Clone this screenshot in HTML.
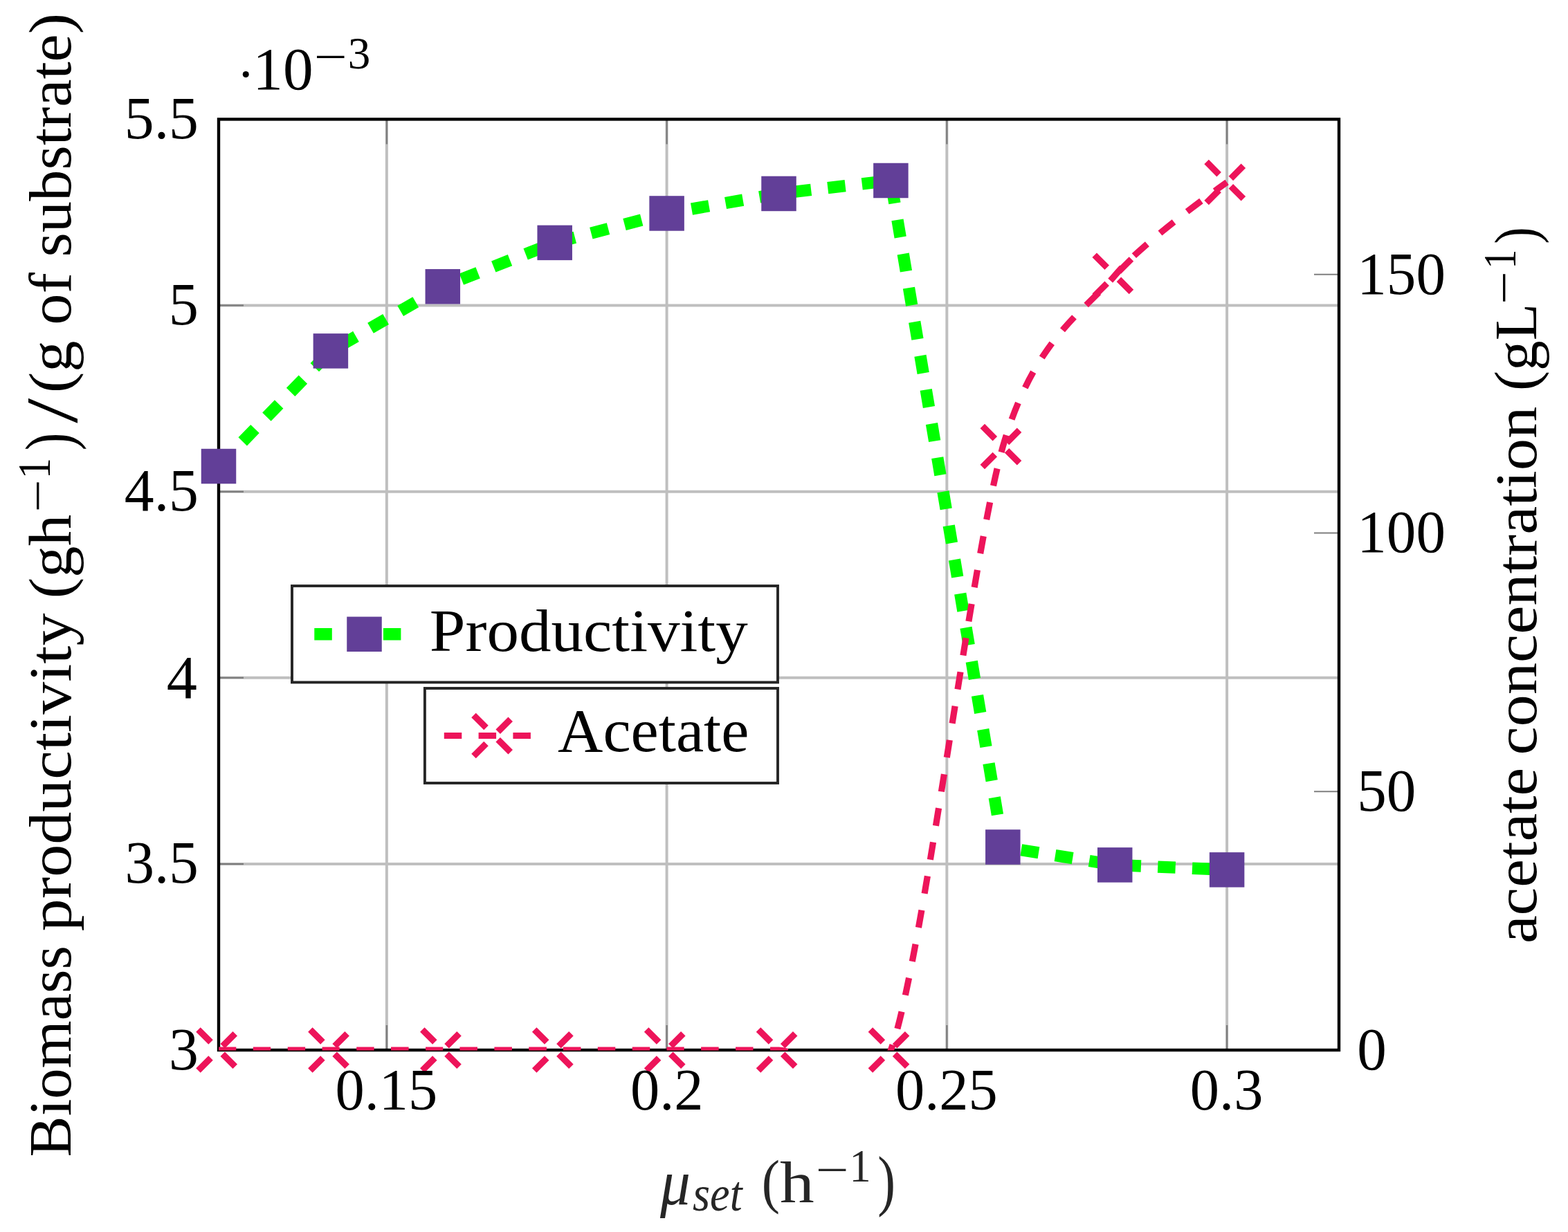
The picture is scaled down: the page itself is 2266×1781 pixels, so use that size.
<!DOCTYPE html><html><head><meta charset="utf-8"><title>Biomass productivity and acetate concentration vs μset</title><style>html,body{margin:0;padding:0;background:#fff;}svg{display:block;}text{font-kerning:normal;}</style></head><body>
<svg width="2266" height="1781" viewBox="0 0 2266 1781">
<rect width="2266" height="1781" fill="#fff"/>
<defs><clipPath id="clip"><rect x="316.00" y="172.40" width="1619.00" height="1346.10"/></clipPath></defs>
<g stroke="#bfbfbf" stroke-width="4.0" fill="none">
<line x1="558.85" y1="172.40" x2="558.85" y2="1518.00"/>
<line x1="963.60" y1="172.40" x2="963.60" y2="1518.00"/>
<line x1="1368.35" y1="172.40" x2="1368.35" y2="1518.00"/>
<line x1="1773.10" y1="172.40" x2="1773.10" y2="1518.00"/>
<line x1="316.00" y1="1248.88" x2="1935.00" y2="1248.88"/>
<line x1="316.00" y1="979.76" x2="1935.00" y2="979.76"/>
<line x1="316.00" y1="710.64" x2="1935.00" y2="710.64"/>
<line x1="316.00" y1="441.52" x2="1935.00" y2="441.52"/>
</g>
<g stroke="#7f7f7f" stroke-width="2.5" fill="none">
<line x1="558.85" y1="172.40" x2="558.85" y2="208.40"/>
<line x1="558.85" y1="1518.00" x2="558.85" y2="1482.00"/>
<line x1="963.60" y1="172.40" x2="963.60" y2="208.40"/>
<line x1="963.60" y1="1518.00" x2="963.60" y2="1482.00"/>
<line x1="1368.35" y1="172.40" x2="1368.35" y2="208.40"/>
<line x1="1368.35" y1="1518.00" x2="1368.35" y2="1482.00"/>
<line x1="1773.10" y1="172.40" x2="1773.10" y2="208.40"/>
<line x1="1773.10" y1="1518.00" x2="1773.10" y2="1482.00"/>
<line x1="316.00" y1="1248.88" x2="352.00" y2="1248.88"/>
<line x1="316.00" y1="979.76" x2="352.00" y2="979.76"/>
<line x1="316.00" y1="710.64" x2="352.00" y2="710.64"/>
<line x1="316.00" y1="441.52" x2="352.00" y2="441.52"/>
</g>
<g stroke="#7f7f7f" stroke-width="2.0" fill="none">
<line x1="1935.00" y1="1144.22" x2="1899.00" y2="1144.22"/>
<line x1="1935.00" y1="770.44" x2="1899.00" y2="770.44"/>
<line x1="1935.00" y1="396.67" x2="1899.00" y2="396.67"/>
</g>
<rect x="316.00" y="172.40" width="1619.00" height="1345.60" fill="none" stroke="#000" stroke-width="4.4"/>
<path clip-path="url(#clip)" d="M316.00,674.04 L477.90,507.40 L639.80,414.29 L801.70,350.88 L963.60,308.47 L1125.50,279.94 L1287.40,260.99 L1449.30,1224.50 L1611.20,1250.39 L1773.10,1257.38" fill="none" stroke="#00ff00" stroke-width="17.4" stroke-dasharray="25.5 24.3"/>
<rect x="290.75" y="648.79" width="50.5" height="50.5" fill="#623f98"/>
<rect x="452.65" y="482.15" width="50.5" height="50.5" fill="#623f98"/>
<rect x="614.55" y="389.04" width="50.5" height="50.5" fill="#623f98"/>
<rect x="776.45" y="325.63" width="50.5" height="50.5" fill="#623f98"/>
<rect x="938.35" y="283.22" width="50.5" height="50.5" fill="#623f98"/>
<rect x="1100.25" y="254.69" width="50.5" height="50.5" fill="#623f98"/>
<rect x="1262.15" y="235.74" width="50.5" height="50.5" fill="#623f98"/>
<rect x="1424.05" y="1199.25" width="50.5" height="50.5" fill="#623f98"/>
<rect x="1585.95" y="1225.14" width="50.5" height="50.5" fill="#623f98"/>
<rect x="1747.85" y="1232.13" width="50.5" height="50.5" fill="#623f98"/>
<rect x="422.0" y="847.0" width="702.00" height="139.40" fill="#fff" stroke="#252525" stroke-width="3.9"/>
<line x1="454.30" y1="916.8" x2="598.70" y2="916.8" stroke="#00ff00" stroke-width="17.4" stroke-dasharray="25.5 24.3"/>
<rect x="501.25" y="891.55" width="50.5" height="50.5" fill="#623f98"/>
<path clip-path="url(#clip)" d="M316.00,1518.00 C316.00,1518.00 432.97,1518.00 477.90,1518.00 C522.83,1518.00 594.87,1518.00 639.80,1518.00 C684.73,1518.00 756.77,1518.00 801.70,1518.00 C846.63,1518.00 918.67,1518.00 963.60,1518.00 C1008.53,1518.00 1080.57,1518.00 1125.50,1518.00 C1170.43,1518.00 1242.47,1639.05 1287.40,1518.00 C1332.33,1396.95 1404.37,800.98 1449.30,645.60 C1494.23,490.23 1566.27,451.16 1611.20,398.16 C1656.13,345.16 1773.10,263.60 1773.10,263.60" fill="none" stroke="#ed145a" stroke-width="9.2" stroke-dasharray="25.5 24.3"/>
<g stroke="#ed145a" stroke-width="9.2" stroke-dasharray="25.5 24.3" fill="none">
<line x1="286.50" y1="1547.50" x2="345.50" y2="1488.50"/><line x1="286.50" y1="1488.50" x2="345.50" y2="1547.50"/>
<line x1="448.40" y1="1547.50" x2="507.40" y2="1488.50"/><line x1="448.40" y1="1488.50" x2="507.40" y2="1547.50"/>
<line x1="610.30" y1="1547.50" x2="669.30" y2="1488.50"/><line x1="610.30" y1="1488.50" x2="669.30" y2="1547.50"/>
<line x1="772.20" y1="1547.50" x2="831.20" y2="1488.50"/><line x1="772.20" y1="1488.50" x2="831.20" y2="1547.50"/>
<line x1="934.10" y1="1547.50" x2="993.10" y2="1488.50"/><line x1="934.10" y1="1488.50" x2="993.10" y2="1547.50"/>
<line x1="1096.00" y1="1547.50" x2="1155.00" y2="1488.50"/><line x1="1096.00" y1="1488.50" x2="1155.00" y2="1547.50"/>
<line x1="1257.90" y1="1547.50" x2="1316.90" y2="1488.50"/><line x1="1257.90" y1="1488.50" x2="1316.90" y2="1547.50"/>
<line x1="1419.80" y1="675.10" x2="1478.80" y2="616.10"/><line x1="1419.80" y1="616.10" x2="1478.80" y2="675.10"/>
<line x1="1581.70" y1="427.66" x2="1640.70" y2="368.66"/><line x1="1581.70" y1="368.66" x2="1640.70" y2="427.66"/>
<line x1="1743.60" y1="293.10" x2="1802.60" y2="234.10"/><line x1="1743.60" y1="234.10" x2="1802.60" y2="293.10"/>
</g>
<rect x="613.9" y="995.0" width="510.10" height="137.00" fill="#fff" stroke="#252525" stroke-width="3.9"/>
<line x1="641.80" y1="1063.5" x2="786.20" y2="1063.5" stroke="#ed145a" stroke-width="9.2" stroke-dasharray="25.5 24.3"/>
<g stroke="#ed145a" stroke-width="9.2" stroke-dasharray="25.5 24.3" fill="none"><line x1="684.50" y1="1093.00" x2="743.50" y2="1034.00"/><line x1="684.50" y1="1034.00" x2="743.50" y2="1093.00"/></g>
<text transform="translate(179.80,199.70) scale(0.9900,1)" font-family="&quot;Liberation Serif&quot;, serif" font-style="normal" font-size="86.57" fill="#000">5.5</text>
<text transform="translate(243.78,469.25) scale(0.9900,1)" font-family="&quot;Liberation Serif&quot;, serif" font-style="normal" font-size="87.22" fill="#000">5</text>
<text transform="translate(179.80,737.94) scale(0.9900,1)" font-family="&quot;Liberation Serif&quot;, serif" font-style="normal" font-size="86.57" fill="#000">4.5</text>
<text transform="translate(240.66,1008.81) scale(0.9900,1)" font-family="&quot;Liberation Serif&quot;, serif" font-style="normal" font-size="89.23" fill="#000">4</text>
<text transform="translate(180.57,1276.19) scale(0.9900,1)" font-family="&quot;Liberation Serif&quot;, serif" font-style="normal" font-size="85.93" fill="#000">3.5</text>
<text transform="translate(244.08,1545.73) scale(0.9900,1)" font-family="&quot;Liberation Serif&quot;, serif" font-style="normal" font-size="86.57" fill="#000">3</text>
<text transform="translate(484.46,1604.22) scale(0.9900,1)" font-family="&quot;Liberation Serif&quot;, serif" font-style="normal" font-size="85.29" fill="#000">0.15</text>
<text transform="translate(910.96,1604.22) scale(0.9900,1)" font-family="&quot;Liberation Serif&quot;, serif" font-style="normal" font-size="85.29" fill="#000">0.2</text>
<text transform="translate(1293.96,1604.22) scale(0.9900,1)" font-family="&quot;Liberation Serif&quot;, serif" font-style="normal" font-size="85.29" fill="#000">0.25</text>
<text transform="translate(1719.82,1604.22) scale(0.9900,1)" font-family="&quot;Liberation Serif&quot;, serif" font-style="normal" font-size="85.29" fill="#000">0.3</text>
<text transform="translate(1961.34,1545.94) scale(0.9900,1)" font-family="&quot;Liberation Serif&quot;, serif" font-style="normal" font-size="85.93" fill="#000">0</text>
<text transform="translate(1961.34,1172.16) scale(0.9900,1)" font-family="&quot;Liberation Serif&quot;, serif" font-style="normal" font-size="85.93" fill="#000">50</text>
<text transform="translate(1961.34,798.39) scale(0.9900,1)" font-family="&quot;Liberation Serif&quot;, serif" font-style="normal" font-size="85.93" fill="#000">100</text>
<text transform="translate(1961.34,424.61) scale(0.9900,1)" font-family="&quot;Liberation Serif&quot;, serif" font-style="normal" font-size="85.93" fill="#000">150</text>
<text transform="translate(342.58,132.66) scale(1.0000,1)" font-family="&quot;Liberation Serif&quot;, serif" font-style="normal" font-size="76.52" fill="#000">·</text>
<text transform="translate(365.24,128.84) scale(1.0184,1)" font-family="&quot;Liberation Serif&quot;, serif" font-style="normal" font-size="85.78" fill="#000">10</text>
<text transform="translate(502.84,99.15) scale(0.9984,1)" font-family="&quot;Liberation Serif&quot;, serif" font-style="normal" font-size="65.22" fill="#000">3</text>
<text transform="translate(454.05,104.02) scale(1.3024,1)" font-family="&quot;Liberation Serif&quot;, serif" font-style="normal" font-size="65.22" fill="#000">−</text>
<text transform="translate(620.71,940.70) scale(1.0656,1)" font-family="&quot;Liberation Serif&quot;, serif" font-style="normal" font-size="87.33" fill="#000">Productivity</text>
<text transform="translate(806.10,1086.10) scale(1.0115,1)" font-family="&quot;Liberation Serif&quot;, serif" font-style="normal" font-size="89.47" fill="#000">Acetate</text>
<text transform="translate(954.00,1740.95) scale(0.9300,1)" font-family="&quot;Liberation Serif&quot;, serif" font-style="italic" font-size="94.03" fill="#262626">μ</text>
<text transform="translate(1001.03,1750.28) scale(0.8952,1)" font-family="&quot;Liberation Serif&quot;, serif" font-style="italic" font-size="71.93" fill="#262626">set</text>
<text transform="translate(1100.85,1737.25) scale(0.9118,1)" font-family="&quot;Liberation Serif&quot;, serif" font-style="normal" font-size="86.44" fill="#262626">(</text>
<text transform="translate(1127.01,1738.32) scale(1.1700,1)" font-family="&quot;Liberation Serif&quot;, serif" font-style="normal" font-size="84.93" fill="#262626">h</text>
<text transform="translate(1227.39,1708.20) scale(0.9147,1)" font-family="&quot;Liberation Serif&quot;, serif" font-style="normal" font-size="68.09" fill="#262626">1</text>
<text transform="translate(1178.76,1713.67) scale(1.2444,1)" font-family="&quot;Liberation Serif&quot;, serif" font-style="normal" font-size="68.09" fill="#262626">−</text>
<text transform="translate(1268.18,1739.41) scale(0.7961,1)" font-family="&quot;Liberation Serif&quot;, serif" font-style="normal" font-size="97.11" fill="#262626">)</text>
<text transform="translate(102.00,1672.46) rotate(-90) scale(1.0228,1)" font-family="&quot;Liberation Serif&quot;, serif" font-style="normal" font-size="86.72" fill="#000">Biomass</text>
<text transform="translate(102.00,1346.21) rotate(-90) scale(1.0847,1)" font-family="&quot;Liberation Serif&quot;, serif" font-style="normal" font-size="86.72" fill="#000">productivity</text>
<text transform="translate(101.80,865.20) rotate(-90) scale(1.0565,1)" font-family="&quot;Liberation Serif&quot;, serif" font-style="normal" font-size="86.19" fill="#000">(gh</text>
<text transform="translate(71.80,692.53) rotate(-90) scale(0.9186,1)" font-family="&quot;Liberation Serif&quot;, serif" font-style="normal" font-size="66.87" fill="#000">1</text>
<text transform="translate(77.47,740.19) rotate(-90) scale(1.2542,1)" font-family="&quot;Liberation Serif&quot;, serif" font-style="normal" font-size="66.87" fill="#000">−</text>
<text transform="translate(103.73,651.32) rotate(-90) scale(0.7970,1)" font-family="&quot;Liberation Serif&quot;, serif" font-style="normal" font-size="97.00" fill="#000">)</text>
<text transform="translate(110.75,611.70) rotate(-90) scale(1.2281,1)" font-family="&quot;Liberation Serif&quot;, serif" font-style="normal" font-size="105.41" fill="#000">/</text>
<text transform="translate(101.80,567.88) rotate(-90) scale(1.0581,1)" font-family="&quot;Liberation Serif&quot;, serif" font-style="normal" font-size="85.71" fill="#000">(g of substrate)</text>
<text transform="translate(2220.00,1364.11) rotate(-90) scale(1.0807,1)" font-family="&quot;Liberation Serif&quot;, serif" font-style="normal" font-size="84.84" fill="#000">acetate</text>
<text transform="translate(2220.00,1091.60) rotate(-90) scale(1.0916,1)" font-family="&quot;Liberation Serif&quot;, serif" font-style="normal" font-size="84.84" fill="#000">concentration</text>
<text transform="translate(2219.64,565.04) rotate(-90) scale(1.0179,1)" font-family="&quot;Liberation Serif&quot;, serif" font-style="normal" font-size="86.00" fill="#000">(gL</text>
<text transform="translate(2190.00,388.79) rotate(-90) scale(0.8460,1)" font-family="&quot;Liberation Serif&quot;, serif" font-style="normal" font-size="66.87" fill="#000">1</text>
<text transform="translate(2195.67,439.66) rotate(-90) scale(1.2735,1)" font-family="&quot;Liberation Serif&quot;, serif" font-style="normal" font-size="66.87" fill="#000">−</text>
<text transform="translate(2219.64,352.39) rotate(-90) scale(0.8497,1)" font-family="&quot;Liberation Serif&quot;, serif" font-style="normal" font-size="86.00" fill="#000">)</text>
</svg></body></html>
